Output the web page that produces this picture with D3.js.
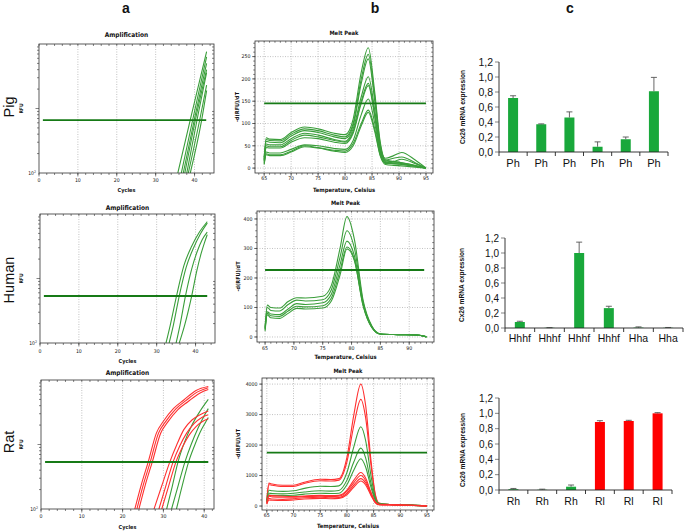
<!DOCTYPE html>
<html><head><meta charset="utf-8">
<script src="https://cdn.jsdelivr.net/npm/d3@7"></script>
<style>
body{margin:0;background:#fff}
svg{display:block}
text{font-family:"Liberation Sans",Arial,sans-serif;fill:#111}
.nar{font-family:"Liberation Sans Narrow","DejaVu Sans Condensed","Liberation Sans",sans-serif}
</style>
</head><body>
<svg id="fig" width="685" height="532"></svg>
<script>
// ---------------- DATA ----------------
const columnLabels = ["a", "b", "c"];
const rowLabels = ["Pig", "Human", "Rat"];

// Amplification (x: cycle, y: RFU, log scale 10^2..10^4)
const ampXTicks = [0, 10, 20, 30, 40];
const ampPigCurves = [
  [[35.7,100],[39.2,800],[43.1,7600]],
  [[36.6,100],[39.8,800],[43.1,6300]],
  [[37.1,100],[40.2,800],[43.1,5000]],
  [[37.5,100],[40.5,800],[43.1,4000]],
  [[38.0,100],[40.9,800],[43.1,3600]],
  [[38.4,100],[41.4,700],[43.1,2300]],
  [[38.9,100],[41.8,650],[43.1,1900]]
];
const ampHumanCurves = [
  [[32.4,100],[33.5,190],[35.1,535],[37,1585],[39,3160],[41,5250],[43,7590]],
  [[33.2,100],[34.3,190],[35.8,535],[37.6,1500],[39.5,3000],[41.3,5000],[43,7240]],
  [[35.0,100],[36.0,190],[37.4,535],[39.0,1400],[40.4,2600],[41.7,4000],[43,5250]],
  [[35.8,100],[37.2,190],[39.0,535],[40.3,1300],[41.4,2400],[42.3,3600],[43,4790]]
];
const ampRatRedCurves = [
  [[23.0,100],[24.5,229],[26.3,543],[28.3,1514],[30,2290],[32.5,3630],[35,4900],[38,6900],[41,7940]],
  [[23.5,100],[25.0,229],[26.8,543],[28.8,1500],[30.5,2240],[33,3550],[35.5,4790],[38.5,6600],[41,7600]],
  [[24.0,100],[25.5,229],[27.3,543],[29.3,1480],[31,2200],[33.5,3450],[36,4600],[39,6300],[41,7100]],
  [[27.7,100],[29.6,229],[31.6,543],[33.3,1000],[35,1700],[37,2400],[39,2900],[41,3300]],
  [[28.9,100],[30.6,229],[32.4,543],[34,950],[35.7,1500],[37.5,2100],[39.5,2650],[41,2900]],
  [[29.6,100],[31.3,229],[33.1,543],[34.7,920],[36.3,1400],[38,1900],[40,2350],[41,2500]]
];
const ampRatGreenCurves = [
  [[30.8,100],[32.2,229],[33.6,543],[35.2,1100],[37,2000],[39,3300],[41,5000]],
  [[32.0,100],[33.6,229],[35.3,543],[36.8,1000],[38.5,1800],[40,2800],[41,3600]],
  [[33.2,100],[34.6,229],[36.2,543],[37.6,950],[39,1550],[40.3,2200],[41,2630]]
];
const ampThresholds = [661, 535, 535];
const ampLastCycle = [43, 43, 41];

// Melt peak (x: temperature, y: -d(RFU)/dT)
const meltPigTemps = [65,65.4,66,68,70,72.5,75,78,80,81.5,83,84.3,85.5,86.5,87.5,89,90.5,93,95];
const meltPigSeries = [
  [25,68,65,64,80,92,88,78,75,110,215,270,170,60,18,15,12,6,0],
  [22,64,62,61,76,88,84,74,70,100,200,255,160,55,16,14,12,6,0],
  [20,60,58,57,72,84,80,70,66,95,190,245,150,50,14,12,10,5,0],
  [18,54,52,52,66,78,74,64,60,88,160,205,130,45,22,28,35,18,0],
  [16,50,48,48,62,74,70,62,58,82,150,190,120,40,18,22,25,12,0],
  [15,46,45,45,58,68,66,58,55,78,145,185,115,38,12,10,8,4,0],
  [12,36,34,34,42,52,50,44,42,62,120,155,100,34,10,10,9,4,0],
  [10,32,30,30,38,50,46,40,38,55,100,130,88,30,12,15,20,10,0],
  [8,30,28,28,36,48,45,38,35,50,95,125,82,28,8,6,5,2,0]
];
const meltPigThreshold = 145;
const meltPigXTicks = [65,70,75,80,85,90,95];
const meltPigYTicks = [0,50,100,150,200,250];

const meltHumanTemps = [65,65.4,66,67.5,69,70.5,72,75,76.5,78,79.2,80.5,82,83.5,85,88,91,92.5,93];
const meltHumanSeries = [
  [35,108,100,98,120,133,132,138,175,300,408,330,125,38,10,8,7,3,0],
  [30,100,90,88,110,125,122,126,160,270,360,300,118,36,10,8,7,3,0],
  [28,85,78,76,95,113,110,116,145,245,325,275,112,34,10,8,7,3,0],
  [25,80,72,70,88,104,102,106,132,225,305,262,108,33,10,8,7,3,0],
  [20,75,65,63,80,97,95,98,122,210,298,258,106,32,10,8,7,3,0]
];
const meltHumanThreshold = 227;
const meltHumanXTicks = [65,70,75,80,85,90];
const meltHumanYTicks = [0,100,200,300,400];

const meltRatTemps = [65,65.4,66,68,70,72,75,77,78.5,80,81.3,82.6,83.5,84.5,85.3,86,88,92,95];
const meltRatSeries = [
  [200,750,720,680,680,780,880,870,900,1600,3000,4000,3300,1500,400,100,50,30,0],
  [180,700,680,640,640,740,830,820,850,1450,2650,3500,2900,1350,360,90,50,30,0],
  [150,520,500,480,500,580,650,640,660,1100,1950,2600,2150,1000,280,80,50,30,0],
  [130,420,410,400,420,460,500,490,510,850,1450,1900,1580,750,220,70,50,30,0],
  [120,360,350,345,355,390,420,410,420,700,1180,1550,1280,620,190,60,50,30,0],
  [110,350,340,320,310,330,350,340,350,520,850,1100,920,450,140,55,40,25,0],
  [100,320,300,290,290,310,320,310,320,480,770,1000,840,420,130,50,40,25,0],
  [80,250,230,220,240,270,290,270,280,420,690,900,760,380,120,45,40,25,0],
  [60,200,190,180,200,230,250,240,250,370,620,820,690,350,110,40,35,20,0]
];
const meltRatSeriesColors = ["red","red","green","green","green","red","red","red","red"];
const meltRatThreshold = 1750;
const meltRatXTicks = [65,70,75,80,85,90,95];
const meltRatYTicks = [0,1000,2000,3000,4000];

// Cx26 mRNA expression bars
const barYTicks = [0, 0.2, 0.4, 0.6, 0.8, 1.0, 1.2];
const barYTickLabels = ["0,0","0,2","0,4","0,6","0,8","1,0","1,2"];
const pigCategories = ["Ph","Ph","Ph","Ph","Ph","Ph"];
const pigValues = [0.72, 0.37, 0.46, 0.07, 0.17, 0.81];
const pigErrors = [0.03, 0.005, 0.075, 0.065, 0.03, 0.185];
const pigColors = ["green","green","green","green","green","green"];
const humanCategories = ["Hhhf","Hhhf","Hhhf","Hhhf","Hha","Hha"];
const humanValues = [0.08, 0.003, 1.0, 0.265, 0.005, 0.003];
const humanErrors = [0.01, 0.002, 0.145, 0.025, 0.01, 0.004];
const humanColors = ["green","green","green","green","green","green"];
const ratCategories = ["Rh","Rh","Rh","Rl","Rl","Rl"];
const ratValues = [0.01, 0.003, 0.043, 0.887, 0.9, 1.0];
const ratErrors = [0.01, 0.008, 0.022, 0.017, 0.009, 0.009];
const ratColors = ["green","green","green","red","red","red"];

// ---------------- STYLE ----------------
const C = {
  lineGreen: "#3a9e3a", lineRed: "#ff3030", thr: "#167a16",
  barGreen: "#19a83b", barRed: "#ff0000", axis: "#333", grid: "#a8a8a8"
};
const svg = d3.select("#fig");
let clipId = 0;

function vTickLines(g, vals, sx, y, len) {
  g.append("g").selectAll("line").data(vals).join("line")
    .attr("x1", d => sx(d)).attr("x2", d => sx(d))
    .attr("y1", y).attr("y2", y + len)
    .attr("stroke", C.axis).attr("stroke-width", 0.6);
}
function hTickLines(g, vals, sy, x, len) {
  g.append("g").selectAll("line").data(vals).join("line")
    .attr("y1", d => sy(d)).attr("y2", d => sy(d))
    .attr("x1", x).attr("x2", x + len)
    .attr("stroke", C.axis).attr("stroke-width", 0.6);
}
function addClip(x0, y0, x1, y1) {
  const id = "clip" + (clipId++);
  svg.append("clipPath").attr("id", id).append("rect")
    .attr("x", x0).attr("y", y0).attr("width", x1 - x0).attr("height", y1 - y0);
  return "url(#" + id + ")";
}

// ---------------- AMPLIFICATION ----------------
function ampPanel(c) {
  const x = d3.scaleLinear().domain([0, c.xmax]).range([c.x0, c.x1]);
  const y = d3.scaleLog().domain([100, 10000]).range([c.y1, c.y0]);
  const g = svg.append("g");
  // grid
  g.append("g").selectAll("line").data(ampXTicks.filter(d => d > 0)).join("line")
    .attr("x1", d => x(d)).attr("x2", d => x(d)).attr("y1", c.y0).attr("y2", c.y1)
    .attr("stroke", C.grid).attr("stroke-width", 0.7).attr("stroke-dasharray", "1,1.5");
  const clip = addClip(c.x0, c.y0, c.x1, c.y1);
  const line = d3.line().x(d => x(d[0])).y(d => y(d[1])).curve(d3.curveMonotoneX);
  const cg = g.append("g").attr("clip-path", clip);
  c.series.forEach(s => {
    cg.selectAll(null).data(s.curves).join("path")
      .attr("d", line).attr("fill", "none")
      .attr("stroke", s.color).attr("stroke-width", 1.1);
  });
  // threshold
  g.append("line").attr("x1", x(1)).attr("x2", x(c.last))
    .attr("y1", y(c.thr)).attr("y2", y(c.thr))
    .attr("stroke", C.thr).attr("stroke-width", 1.8);
  // frame
  g.append("rect").attr("x", c.x0).attr("y", c.y0).attr("width", c.x1 - c.x0).attr("height", c.y1 - c.y0)
    .attr("fill", "none").attr("stroke", C.axis).attr("stroke-width", 0.8);
  const minorX = d3.range(0, c.xmax, 2);
  vTickLines(g, minorX, x, c.y1, 2);
  vTickLines(g, ampXTicks, x, c.y1, 3.5);
  vTickLines(g, minorX, x, c.y0, 2);
  const minorY = [200,300,400,500,600,700,800,900,2000,3000,4000,5000,6000,7000,8000,9000];
  hTickLines(g, minorY, y, c.x0 - 2, 2);
  hTickLines(g, [1000], y, c.x0 - 3.5, 3.5);
  hTickLines(g, minorY, y, c.x1 - 2, 2);
  // labels
  g.append("g").selectAll("text").data(ampXTicks).join("text").attr("class", "nar")
    .attr("x", d => x(d)).attr("y", c.tickY).attr("text-anchor", "middle")
    .attr("font-size", 5.2).attr("fill", "#333").text(d => d);
  const t = g.append("text").attr("class", "nar").attr("x", c.x0 - 3).attr("y", c.y1 + 2)
    .attr("text-anchor", "end").attr("font-size", 5).attr("fill", "#333");
  t.append("tspan").text("10");
  t.append("tspan").attr("dy", -2).attr("font-size", 3.5).text("2");
  g.append("text").attr("class", "nar").attr("x", (c.x0 + c.x1) / 2).attr("y", c.titleY)
    .attr("text-anchor", "middle").attr("font-size", 6.5).attr("font-weight", "bold").text("Amplification");
  g.append("text").attr("class", "nar").attr("x", (c.x0 + c.x1) / 2).attr("y", c.labelY)
    .attr("text-anchor", "middle").attr("font-size", 5.5).attr("font-weight", "bold").text("Cycles");
  g.append("text").attr("class", "nar")
    .attr("transform", `translate(23,${(c.y0 + c.y1) / 2}) rotate(-90)`)
    .attr("text-anchor", "middle").attr("font-size", 5).attr("font-weight", "bold").text("RFU");
}

ampPanel({x0:39, x1:214, y0:44, y1:173, xmax:45, thr:ampThresholds[0], last:ampLastCycle[0],
  titleY:37, tickY:182, labelY:192,
  series:[{curves:ampPigCurves, color:C.lineGreen}]});
ampPanel({x0:40, x1:215, y0:214, y1:343, xmax:45, thr:ampThresholds[1], last:ampLastCycle[1],
  titleY:210, tickY:353, labelY:363,
  series:[{curves:ampHumanCurves, color:C.lineGreen}]});
ampPanel({x0:41, x1:214, y0:380, y1:509, xmax:42.4, thr:ampThresholds[2], last:ampLastCycle[2],
  titleY:375, tickY:518, labelY:529,
  series:[{curves:ampRatGreenCurves, color:C.lineGreen},{curves:ampRatRedCurves, color:C.lineRed}]});

// ---------------- MELT PEAK ----------------
function meltPanel(c) {
  const x = d3.scaleLinear().domain(c.xDom).range([c.x0, c.x1]);
  const y = d3.scaleLinear().domain(c.yDom).range([c.y1, c.y0]);
  const g = svg.append("g");
  g.append("g").selectAll("line").data(c.xTicks).join("line")
    .attr("x1", d => x(d)).attr("x2", d => x(d)).attr("y1", c.y0).attr("y2", c.y1)
    .attr("stroke", C.grid).attr("stroke-width", 0.7).attr("stroke-dasharray", "1,1.5");
  g.append("g").selectAll("line").data(c.yTicks).join("line")
    .attr("y1", d => y(d)).attr("y2", d => y(d)).attr("x1", c.x0).attr("x2", c.x1)
    .attr("stroke", C.grid).attr("stroke-width", 0.7).attr("stroke-dasharray", "1,1.5");
  const clip = addClip(c.x0, c.y0, c.x1, c.y1);
  const line = d3.line().x((d, i) => x(c.temps[i])).y(d => y(d)).curve(d3.curveMonotoneX);
  const cg = g.append("g").attr("clip-path", clip);
  cg.selectAll("path").data(c.series).join("path")
    .attr("d", line).attr("fill", "none")
    .attr("stroke", (d, i) => c.colors[i] === "red" ? C.lineRed : C.lineGreen)
    .attr("stroke-width", 1.1);
  g.append("line").attr("x1", x(c.thrX[0])).attr("x2", x(c.thrX[1]))
    .attr("y1", y(c.thr)).attr("y2", y(c.thr))
    .attr("stroke", C.thr).attr("stroke-width", 1.8);
  g.append("rect").attr("x", c.x0).attr("y", c.y0).attr("width", c.x1 - c.x0).attr("height", c.y1 - c.y0)
    .attr("fill", "none").attr("stroke", C.axis).attr("stroke-width", 0.8);
  const minorX = d3.range(Math.ceil(c.xDom[0]), c.xDom[1], 1);
  const yStep = c.yTicks[1] - c.yTicks[0];
  const minorY = d3.range(0, c.yDom[1], yStep / 5);
  vTickLines(g, minorX, x, c.y1, 1.8);
  vTickLines(g, c.xTicks, x, c.y1, 3);
  vTickLines(g, minorX, x, c.y0, 1.8);
  hTickLines(g, minorY, y, c.x0 - 1.8, 1.8);
  hTickLines(g, c.yTicks, y, c.x0 - 3, 3);
  hTickLines(g, minorY, y, c.x1 - 1.8, 1.8);
  g.append("g").selectAll("text").data(c.xTicks).join("text").attr("class", "nar")
    .attr("x", d => x(d)).attr("y", c.tickY).attr("text-anchor", "middle")
    .attr("font-size", 5.2).attr("fill", "#333").text(d => d);
  g.append("g").selectAll("text").data(c.yTicks).join("text").attr("class", "nar")
    .attr("x", c.x0 - 4.5).attr("y", d => y(d) + 1.8).attr("text-anchor", "end")
    .attr("font-size", 5.2).attr("fill", "#333").text(d => d);
  g.append("text").attr("class", "nar").attr("x", (c.x0 + c.x1) / 2).attr("y", c.titleY)
    .attr("text-anchor", "middle").attr("font-size", 5.8).attr("font-weight", "bold").text("Melt Peak");
  g.append("text").attr("class", "nar").attr("x", (c.x0 + c.x1) / 2).attr("y", c.labelY)
    .attr("text-anchor", "middle").attr("font-size", 5.8).attr("font-weight", "bold").text("Temperature, Celsius");
  g.append("text").attr("class", "nar")
    .attr("transform", `translate(${c.ylabX},${(c.y0 + c.y1) / 2}) rotate(-90)`)
    .attr("text-anchor", "middle").attr("font-size", 5.5).attr("font-weight", "bold").text("-d(RFU)/dT");
}

meltPanel({x0:255, x1:433, y0:41, y1:173, xDom:[63.3,96.3], yDom:[-11,285],
  temps:meltPigTemps, series:meltPigSeries, colors:meltPigSeries.map(() => "green"),
  thr:meltPigThreshold, thrX:[65,95], xTicks:meltPigXTicks, yTicks:meltPigYTicks,
  titleY:35, tickY:180, labelY:192, ylabX:239});
meltPanel({x0:257, x1:434, y0:211, y1:342, xDom:[63.6,94.3], yDom:[-17,427],
  temps:meltHumanTemps, series:meltHumanSeries, colors:meltHumanSeries.map(() => "green"),
  thr:meltHumanThreshold, thrX:[65,92.6], xTicks:meltHumanXTicks, yTicks:meltHumanYTicks,
  titleY:205, tickY:350, labelY:359, ylabX:240});
meltPanel({x0:262, x1:434, y0:378, y1:510, xDom:[64.1,96.3], yDom:[-130,4200],
  temps:meltRatTemps, series:meltRatSeries, colors:meltRatSeriesColors,
  thr:meltRatThreshold, thrX:[65,95], xTicks:meltRatXTicks, yTicks:meltRatYTicks,
  titleY:373, tickY:517, labelY:528, ylabX:240});

// ---------------- BAR CHARTS ----------------
function barPanel(c) {
  const idx = d3.range(c.cats.length);
  const x = d3.scaleBand().domain(idx).range([c.xL, c.xR]);
  const y = d3.scaleLinear().domain([0, 1.2]).range([c.yBase, c.yTop]);
  const g = svg.append("g");
  const bw = 10;
  g.selectAll("rect.bar").data(idx).join("rect")
    .attr("x", i => x(i) + x.bandwidth() / 2 - bw / 2)
    .attr("y", i => y(c.vals[i]))
    .attr("width", bw).attr("height", i => c.yBase - y(c.vals[i]))
    .attr("fill", i => c.colors[i] === "red" ? C.barRed : C.barGreen);
  // error bars (upper)
  idx.forEach(i => {
    const cx = x(i) + x.bandwidth() / 2;
    g.append("line").attr("x1", cx).attr("x2", cx)
      .attr("y1", y(c.vals[i])).attr("y2", y(c.vals[i] + c.errs[i]))
      .attr("stroke", "#555").attr("stroke-width", 0.9);
    g.append("line").attr("x1", cx - 3).attr("x2", cx + 3)
      .attr("y1", y(c.vals[i] + c.errs[i])).attr("y2", y(c.vals[i] + c.errs[i]))
      .attr("stroke", "#555").attr("stroke-width", 0.9);
  });
  // y axis
  g.append("line").attr("x1", c.xL).attr("x2", c.xL).attr("y1", c.yBase).attr("y2", y(1.2))
    .attr("stroke", "#222").attr("stroke-width", 0.9);
  hTickLines(g, barYTicks, y, c.xL - 4, 4);
  g.append("g").selectAll("text").data(barYTicks).join("text")
    .attr("x", c.xL - 6).attr("y", d => y(d) + 3.6).attr("text-anchor", "end")
    .attr("font-size", c.fs).attr("fill", "#222").text((d, i) => barYTickLabels[i]);
  // x axis
  g.append("line").attr("x1", c.xL).attr("x2", c.xR).attr("y1", c.yBase).attr("y2", c.yBase)
    .attr("stroke", "#222").attr("stroke-width", 0.9);
  const bounds = idx.map(i => x(i)).concat([c.xR]);
  g.append("g").selectAll("line").data(bounds).join("line")
    .attr("x1", d => d).attr("x2", d => d).attr("y1", c.yBase).attr("y2", c.yBase + 4)
    .attr("stroke", "#222").attr("stroke-width", 0.9);
  g.append("g").selectAll("text").data(idx).join("text")
    .attr("x", i => x(i) + x.bandwidth() / 2).attr("y", c.labelY).attr("text-anchor", "middle")
    .attr("font-size", c.fs + 0.5).attr("fill", "#222").text(i => c.cats[i]);
  g.append("text")
    .attr("transform", `translate(${c.ylabX},${c.ylabY}) rotate(-90)`)
    .attr("text-anchor", "middle").attr("font-size", 6.6).attr("font-weight", "bold")
    .attr("fill", "#222").text("Cx26 mRNA expression");
}

barPanel({xL:499, xR:668, yBase:152, yTop:62, cats:pigCategories, vals:pigValues, errs:pigErrors,
  colors:pigColors, labelY:167, ylabX:465, ylabY:107, fs:10.5});
barPanel({xL:505, xR:683, yBase:328, yTop:238, cats:humanCategories, vals:humanValues, errs:humanErrors,
  colors:humanColors, labelY:342, ylabX:464, ylabY:285, fs:10});
barPanel({xL:499, xR:672, yBase:490, yTop:398, cats:ratCategories, vals:ratValues, errs:ratErrors,
  colors:ratColors, labelY:505, ylabX:465, ylabY:450, fs:10});

// ---------------- HEADERS ----------------
const colX = [126, 375, 570];
svg.append("g").selectAll("text").data(columnLabels).join("text")
  .attr("x", (d, i) => colX[i]).attr("y", 13).attr("text-anchor", "middle")
  .attr("font-size", 14).attr("font-weight", "bold").text(d => d);
const rowY = [107, 280, 442];
svg.append("g").selectAll("text").data(rowLabels).join("text")
  .attr("transform", (d, i) => `translate(13.5,${rowY[i]}) rotate(-90)`)
  .attr("text-anchor", "middle").attr("font-size", 14.5).text(d => d);
</script>
</body></html>
